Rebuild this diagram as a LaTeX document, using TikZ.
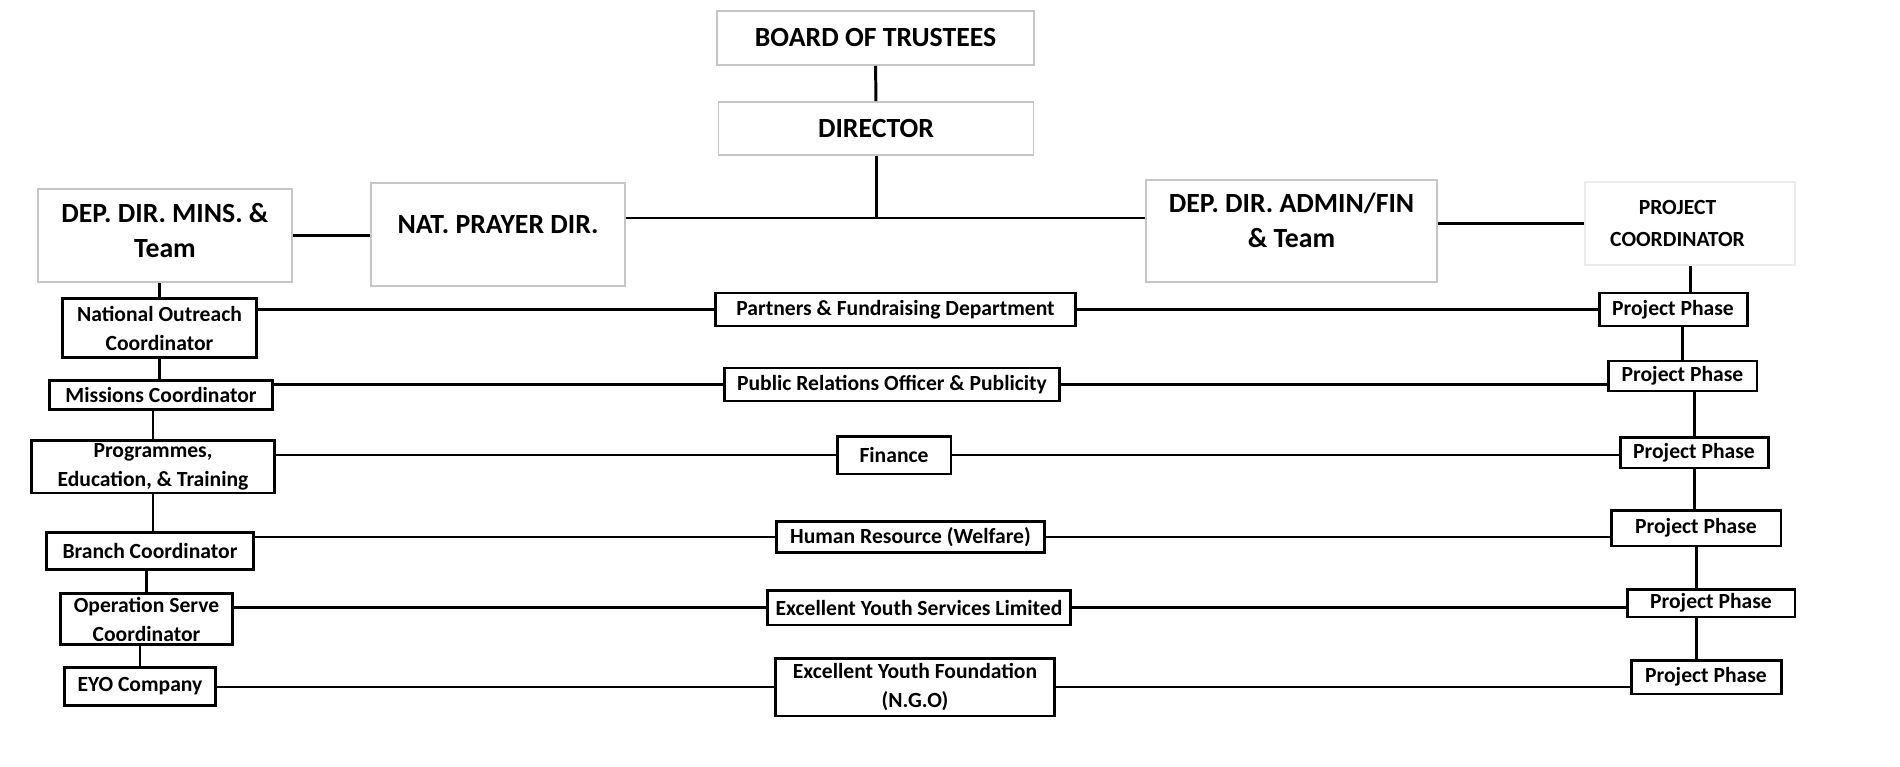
\documentclass[tikz,border=0pt]{standalone}
\usepackage{fontspec}
\setmainfont{Carlito}
\usetikzlibrary{positioning}

\begin{document}
\begin{tikzpicture}[x=0.02cm,y=-0.02cm,
    topbox/.style={draw=gray!45,line width=0.9pt,inner sep=0pt,align=center,
      font=\fontsize{15.8}{20}\selectfont\bfseries},
    unitbox/.style={draw=black,line width=1.7pt,inner sep=0pt,align=center,
      font=\fontsize{12.3}{16.5}\selectfont\bfseries},
    link/.style={line width=1.7pt}]
      \useasboundingbox (0,0) rectangle (1900,767);
      \node[topbox,minimum width=6.34cm,minimum height=1.08cm] (board) at (875.5,38)
            {BOARD OF TRUSTEES};
      \node[topbox,minimum width=6.30cm,minimum height=1.06cm] (director) at (876,128.5)
            {DIRECTOR};
      \node[topbox,minimum width=5.08cm,minimum height=1.86cm,text depth=0.2cm] (mins) at (165,235.5)
            {DEP. DIR. MINS. \&\\Team};
      \node[topbox,minimum width=5.08cm,minimum height=2.06cm,text depth=0.42cm] (nat) at (498,234.5)
            {NAT. PRAYER DIR.};
      \node[topbox,minimum width=5.82cm,minimum height=2.03cm,text depth=0.42cm] (admin) at (1291.5,231)
            {DEP. DIR. ADMIN/FIN\\\& Team};
      \node[topbox,draw=gray!15,minimum width=4.20cm,minimum height=1.66cm,
            font=\fontsize{12.3}{18}\selectfont\bfseries] (pc) at (1690,223.5)
            {PROJECT\hspace*{0.5cm}\\COORDINATOR\hspace*{0.5cm}};
      \coordinate (hub) at (881,218);

      \node[unitbox,minimum width=3.90cm,minimum height=1.19cm] (noc) at (159.5,328)
            {National Outreach\\Coordinator};
      \node[unitbox,minimum width=4.46cm,minimum height=0.58cm] (mc) at (161,395)
            {Missions Coordinator};
      \node[unitbox,minimum width=4.87cm,minimum height=1.06cm] (pet) at (153,466.5)
            {Programmes,\\Education, \& Training};
      \node[unitbox,minimum width=4.16cm,minimum height=0.75cm] (bc) at (150,551)
            {Branch Coordinator};
      \node[unitbox,minimum width=3.44cm,minimum height=1.01cm] (osc) at (146.5,619)
            {Operation Serve\\Coordinator};
      \node[unitbox,minimum width=3.03cm,minimum height=0.75cm] (eyo) at (140,686.5)
            {EYO Company};

      \node[unitbox,minimum width=7.22cm,minimum height=0.66cm] (pfd) at (895.5,309.5)
            {Partners \& Fundraising Department};
      \node[unitbox,minimum width=6.71cm,minimum height=0.66cm] (pro) at (892,384.5)
            {Public Relations Officer \& Publicity};
      \node[unitbox,minimum width=2.28cm,minimum height=0.76cm] (fin) at (894,455)
            {Finance};
      \node[unitbox,minimum width=5.36cm,minimum height=0.63cm] (hr) at (910.5,537)
            {Human Resource (Welfare)};
      \node[unitbox,minimum width=6.08cm,minimum height=0.70cm] (eys) at (919,607.5)
            {Excellent Youth Services Limited};
      \node[unitbox,minimum width=5.57cm,minimum height=1.16cm] (eyf) at (915,687)
            {Excellent Youth Foundation\\(N.G.O)};

      \node[unitbox,minimum width=2.96cm,minimum height=0.66cm] (pp1) at (1673,309.5)
            {Project Phase};
      \node[unitbox,minimum width=2.98cm,minimum height=0.60cm] (pp2) at (1682.5,376)
            {Project Phase};
      \node[unitbox,minimum width=2.96cm,minimum height=0.62cm] (pp3) at (1694,452.5)
            {Project Phase};
      \node[unitbox,minimum width=3.40cm,minimum height=0.72cm] (pp4) at (1696,528)
            {Project Phase};
      \node[unitbox,minimum width=3.36cm,minimum height=0.56cm] (pp5) at (1711,603)
            {Project Phase};
      \node[unitbox,minimum width=3.00cm,minimum height=0.68cm] (pp6) at (1706,677)
            {Project Phase};

      \draw[link] (board) -- (director);
      \draw[link] (director.south) -- (director.south |- hub);
      \draw[link] (nat.east |- hub) -- (admin.west |- hub);
      \draw[link] (mins.east) -- (mins.east -| nat.west);
      \draw[link] (admin.east |- pc.west) -- (pc.west);

      \draw[link] (noc.north) -- (noc.north |- mins.south);
      \draw[link] (noc.south) -- (noc.south |- mc.north);
      \draw[link] (pet.north) -- (pet.north |- mc.south);
      \draw[link] (pet.south) -- (pet.south |- bc.north);
      \draw[link] (osc.north) -- (osc.north |- bc.south);
      \draw[link] (eyo.north) -- (eyo.north |- osc.south);

      \draw[link] (pc.south) -- (pc.south |- pp1.north);
      \draw[link] (pp2.north) -- (pp2.north |- pp1.south);
      \draw[link] (pp3.north) -- (pp3.north |- pp2.south);
      \draw[link] (pp3.south) -- (pp3.south |- pp4.north);
      \draw[link] (pp4.south) -- (pp4.south |- pp5.north);
      \draw[link] (pp5.south -| pp4.south) -- (pp6.north -| pp4.south);

      \draw[link] (noc.east |- pfd.west) -- (pfd.west);
      \draw[link] (pfd.east) -- (pp1.west |- pfd.east);
      \draw[link] (mc.east |- pro.west) -- (pro.west);
      \draw[link] (pro.east) -- (pp2.west |- pro.east);
      \draw[link] (pet.east |- fin.west) -- (fin.west);
      \draw[link] (fin.east) -- (pp3.west |- fin.east);
      \draw[link] (bc.east |- hr.west) -- (hr.west);
      \draw[link] (hr.east) -- (pp4.west |- hr.east);
      \draw[link] (osc.east |- eys.west) -- (eys.west);
      \draw[link] (eys.east) -- (pp5.west |- eys.east);
      \draw[link] (eyo.east |- eyf.west) -- (eyf.west);
      \draw[link] (eyf.east) -- (pp6.west |- eyf.east);
    \end{tikzpicture}
\end{document}
